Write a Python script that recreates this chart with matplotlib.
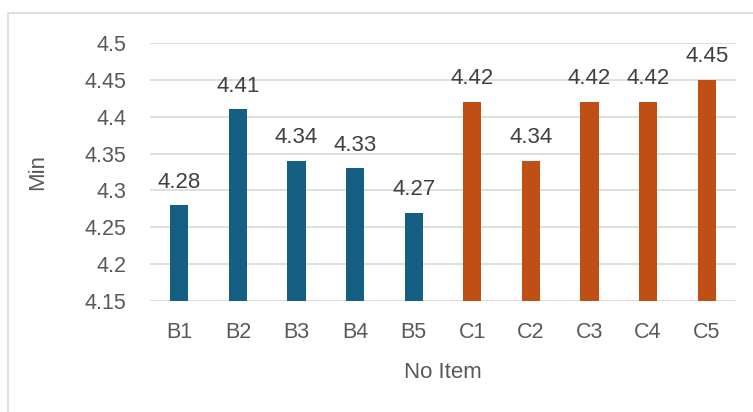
import matplotlib
matplotlib.use("Agg")
import matplotlib.pyplot as plt
from matplotlib.patches import Rectangle

categories = ["B1", "B2", "B3", "B4", "B5", "C1", "C2", "C3", "C4", "C5"]
values = [4.28, 4.41, 4.34, 4.33, 4.27, 4.42, 4.34, 4.42, 4.42, 4.45]
colors = ["#156082"] * 5 + ["#C04F15"] * 5
yticks = [4.15, 4.2, 4.25, 4.3, 4.35, 4.4, 4.45, 4.5]
ytick_labels = ["4.15", "4.2", "4.25", "4.3", "4.35", "4.4", "4.45", "4.5"]

plt.rcParams['font.family'] = ['Liberation Sans', 'DejaVu Sans']
txt = "#595959"

fig = plt.figure(figsize=(7.53, 4.12), dpi=100)
fig.patches.append(Rectangle((8/753, -0.1), 1.0, (412-13)/412 + 0.1, transform=fig.transFigure,
                             fill=False, edgecolor="#D9D9D9", linewidth=1.2))
ax = fig.add_axes([150/753, 1 - 301/412, 586/753, (301-43)/412])

x = range(len(categories))
bars = ax.bar(x, values, width=0.31, color=colors, zorder=3)
ax.set_ylim(4.15, 4.5)
ax.set_xlim(-0.5, len(categories) - 0.5)
ax.set_yticks(yticks)
ax.set_yticklabels(ytick_labels)
ax.set_xticks(list(x))
ax.set_xticklabels(categories)
ax.grid(axis="y", color="#D9D9D9", linewidth=1.2, zorder=0)
for s in ax.spines.values():
    s.set_visible(False)
ax.tick_params(axis="both", length=0, labelsize=15.5, colors=txt)
ax.tick_params(axis="y", pad=17)
ax.tick_params(axis="x", pad=15)

for xi, v in zip(x, values):
    ax.annotate(f"{v:g}", (xi, v), xytext=(0, 9), textcoords="offset points",
                ha="center", va="bottom", fontsize=16, color="#404040")

ax.set_ylabel("Min", fontsize=16, color=txt, labelpad=26)
ax.set_xlabel("No Item", fontsize=16, color=txt, labelpad=14)

fig.savefig("out.png", dpi=100)
